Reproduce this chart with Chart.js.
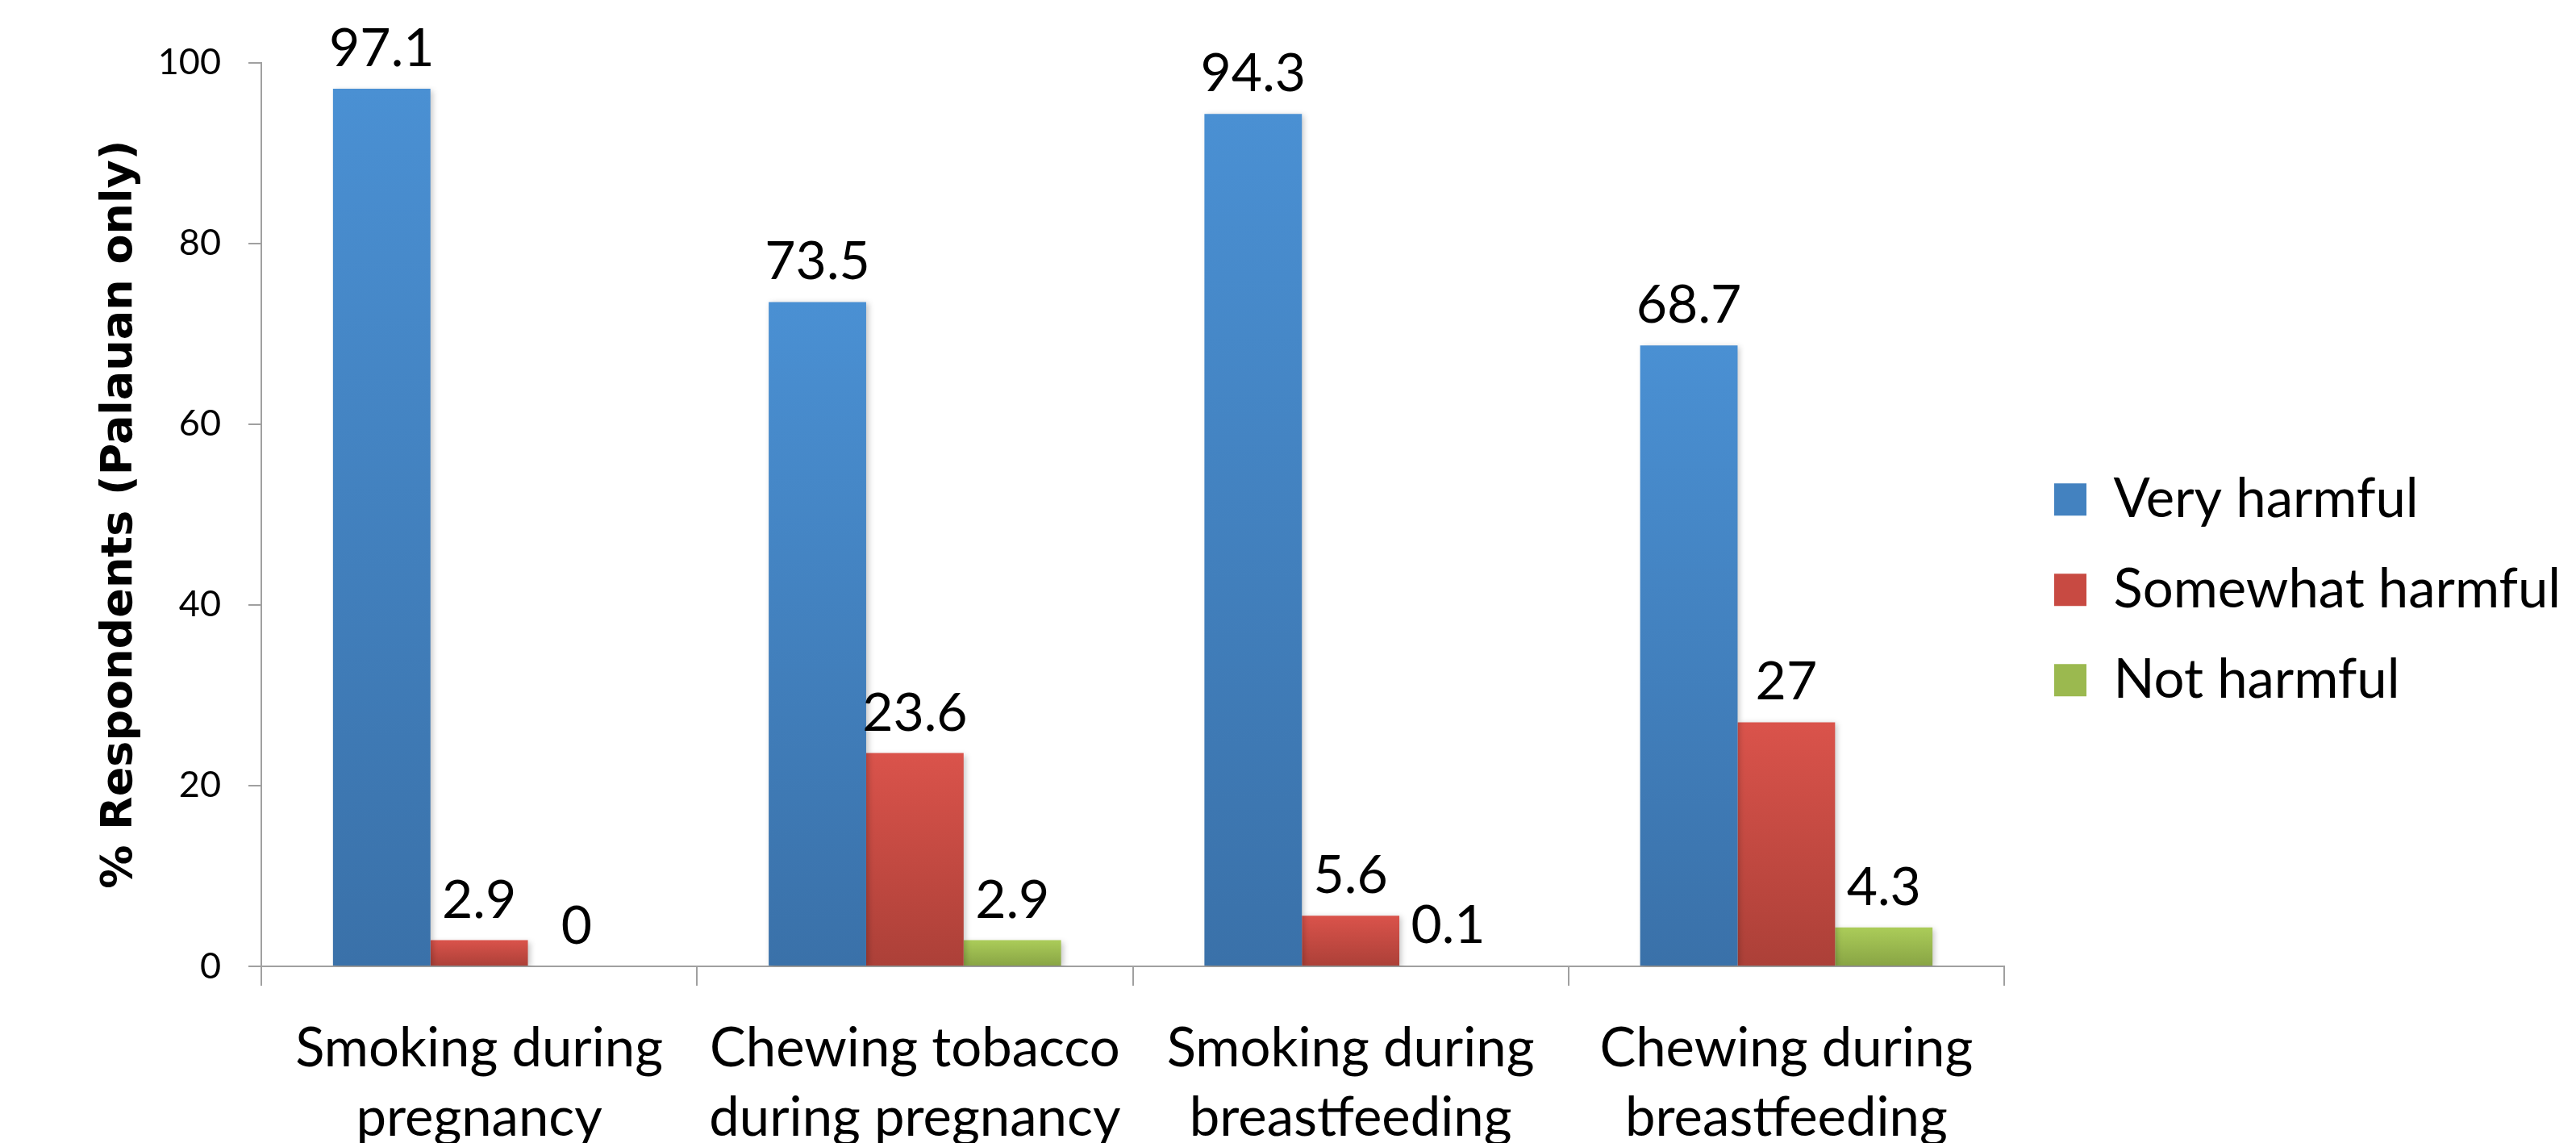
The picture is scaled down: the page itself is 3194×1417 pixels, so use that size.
<!DOCTYPE html>
<html>
<head>
<meta charset="utf-8">
<title>Perceived harm of tobacco use (Palauan respondents)</title>
<script src="https://cdn.jsdelivr.net/npm/chart.js@4.4.1/dist/chart.umd.min.js"></script>
<style>
  html, body { margin: 0; padding: 0; background: #fff; overflow: hidden; }
  #wrap { width: 3194px; height: 1417px; position: relative; }
</style>
</head>
<body>
<div id="wrap"><canvas id="chart-harm"></canvas></div>
<script>
  "use strict";

  // Data - Start
  // --------------------------------------------------
  var categories = [
    ["Smoking during", "pregnancy"],
    ["Chewing tobacco", "during pregnancy"],
    ["Smoking during", "breastfeeding"],
    ["Chewing during", "breastfeeding"]
  ];
  var seriesNames = ["Very harmful", "Somewhat harmful", "Not harmful"];
  var veryHarmful = [97.1, 73.5, 94.3, 68.7];
  var somewhatHarmful = [2.9, 23.6, 5.6, 27];
  var notHarmful = [0, 2.9, 0.1, 4.3];
  var yTicks = [0, 20, 40, 60, 80, 100];
  // Data - End
  // --------------------------------------------------

  var axisGray = "#a0a0a0";
  var bigFont = "Lato";

  // vertical gradient per bar, light on top, dark at the base
  function barGradient(top, bottom) {
    return function(context) {
      var chart = context.chart;
      var yScale = chart.scales.y;
      if (context.type !== "data" || !yScale) return top;
      var yTop = yScale.getPixelForValue(context.raw);
      var yBase = yScale.getPixelForValue(0);
      if (!isFinite(yTop) || !isFinite(yBase) || yBase - yTop < 1) return top;
      var g = chart.ctx.createLinearGradient(0, yTop, 0, yBase);
      g.addColorStop(0, top);
      g.addColorStop(1, bottom);
      return g;
    };
  }

  var legendColors = ["#4382c0", "#c84a42", "#9bb94f"];

  // soft shadow under the bars
  var barShadow = {
    id: "barShadow",
    beforeDatasetsDraw: function(chart) {
      var ctx = chart.ctx;
      ctx.save();
      ctx.shadowColor = "rgba(0, 0, 0, 0.22)";
      ctx.shadowBlur = 7;
      ctx.shadowOffsetX = 3;
      ctx.shadowOffsetY = 2;
    },
    afterDatasetsDraw: function(chart) {
      chart.ctx.restore();
    }
  };

  // value above every bar
  var valueLabels = {
    id: "valueLabels",
    afterDatasetsDraw: function(chart) {
      var ctx = chart.ctx;
      ctx.save();
      ctx.font = "66px " + bigFont;
      ctx.fillStyle = "#000";
      ctx.textAlign = "center";
      ctx.textBaseline = "alphabetic";
      chart.data.datasets.forEach(function(ds, i) {
        chart.getDatasetMeta(i).data.forEach(function(bar, j) {
          ctx.fillText(String(ds.data[j]), bar.x, bar.y - 28);
        });
      });
      ctx.restore();
    }
  };

  // legend: fixed width, then nudged to where the original sits
  var legendPlace = {
    id: "legendPlace",
    afterInit: function(chart) {
      var legend = chart.legend;
      var fit = legend.fit;
      legend.fit = function() {
        fit.call(this);
        this.width = 709;
      };
    },
    afterLayout: function(chart) {
      var legend = chart.legend;
      legend.left += 17;
      legend.right += 17;
      legend.top -= 16;
      legend.bottom -= 16;
    }
  };

  var configHarm = document.getElementById("chart-harm").getContext("2d");
  var HarmChart = new Chart(configHarm, {
    type: "bar",
    data: {
      labels: categories,
      datasets: [
        {
          label: seriesNames[0],
          data: veryHarmful,
          backgroundColor: barGradient("#4a90d3", "#3a71a9")
        },
        {
          label: seriesNames[1],
          data: somewhatHarmful,
          backgroundColor: barGradient("#da534b", "#ac4038")
        },
        {
          label: seriesNames[2],
          data: notHarmful,
          backgroundColor: barGradient("#abcc59", "#88a444")
        }
      ]
    },
    options: {
      responsive: true,
      maintainAspectRatio: false,
      animation: false,
      devicePixelRatio: 1,
      layout: {
        padding: { top: 77.5, right: 0, bottom: 0, left: 0 }
      },
      datasets: {
        bar: {
          categoryPercentage: 0.671,
          barPercentage: 1,
          borderWidth: 0
        }
      },
      scales: {
        x: {
          offset: true,
          grid: {
            offset: true,
            drawOnChartArea: false,
            drawTicks: true,
            tickLength: 24,
            color: axisGray,
            lineWidth: 2
          },
          border: { display: true, color: axisGray, width: 2 },
          ticks: {
            color: "#000",
            font: { family: bigFont, size: 67, lineHeight: 1.29 },
            padding: 35,
            maxRotation: 0,
            autoSkip: false
          },
          afterFit: function(scale) {
            scale.height = 219;
          }
        },
        y: {
          min: yTicks[0],
          max: yTicks[yTicks.length - 1],
          grid: {
            drawOnChartArea: false,
            drawTicks: true,
            tickLength: 16,
            color: axisGray,
            lineWidth: 2
          },
          border: { display: true, color: axisGray, width: 2 },
          ticks: {
            stepSize: yTicks[1] - yTicks[0],
            color: "#000",
            font: { family: bigFont, size: 45 },
            padding: 34
          },
          title: {
            display: true,
            text: "% Respondents (Palauan only)",
            color: "#000",
            font: { family: "DejaVu Sans", size: 54, weight: "bold" },
            padding: { top: 117, bottom: 0 }
          },
          afterFit: function(scale) {
            scale.width = 324;
          }
        }
      },
      plugins: {
        legend: {
          position: "right",
          align: "center",
          labels: {
            color: "#000",
            font: { family: bigFont, size: 67 },
            boxWidth: 40,
            boxHeight: 40,
            padding: 45,
            generateLabels: function(chart) {
              var items = Chart.defaults.plugins.legend.labels.generateLabels(chart);
              items.forEach(function(item, i) {
                item.fillStyle = legendColors[i];
                item.strokeStyle = legendColors[i];
                item.lineWidth = 0;
              });
              return items;
            }
          }
        },
        tooltip: { enabled: false }
      }
    },
    plugins: [barShadow, valueLabels, legendPlace]
  });
</script>
</body>
</html>
